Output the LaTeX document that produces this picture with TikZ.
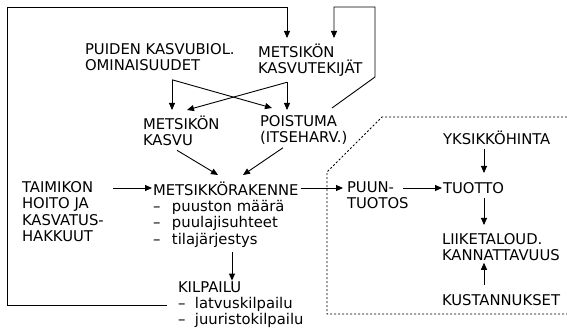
\documentclass[tikz,border=0pt]{standalone}
\usepackage{fontspec}
\setmainfont{DejaVu Sans}
\usetikzlibrary{arrows.meta}
\newcommand{\lbl}{\fontsize{14.8}{16.3}\selectfont}
\newcommand{\viiva}{\makebox[19pt][l]{–}}
\tikzset{
  txt/.style={inner sep=0pt, outer sep=0pt, align=left, anchor=north west, yshift=11.41pt,
    font=\lbl, execute at begin node=\strut, execute at end node=\strut},
  arr/.style={-{Triangle[length=7pt,width=6pt]}, line width=0.9pt},
  raja/.style={line width=0.9pt, dash pattern=on 2pt off 2pt}
}
\begin{document}
\begin{tikzpicture}[x=1pt,y=-1pt]
  \useasboundingbox (0,0) rectangle (567,332);
  \node[txt] (biol) at (85,55) {PUIDEN KASVUBIOL.\\OMINAISUUDET};
  \node[txt] (tekij) at (258,55) {METSIKÖN\\KASVUTEKIJÄT};
  \node[txt] (kasvu) at (143,127) {METSIKÖN\\KASVU};
  \node[txt] (poist) at (260,127) {POISTUMA\\(ITSEHARV.)};
  \node[txt] (taim) at (22,193) {TAIMIKON\\HOITO JA\\KASVATUS-\\HAKKUUT};
  \node[txt] (rak) at (153,193) {METSIKKÖRAKENNE\\\viiva puuston määrä\\\viiva puulajisuhteet\\\viiva tilajärjestys};
  \node[txt] (kilp) at (178,293) {KILPAILU\\\makebox[17pt][l]{–}latvuskilpailu\\\makebox[17pt][l]{–}juuristokilpailu};
  \node[txt] (puun) at (347,193) {PUUN-\\TUOTOS};
  \node[txt] (yks) at (443,142) {YKSIKKÖHINTA};
  \node[txt] (tuot) at (443,193) {TUOTTO};
  \node[txt] (liik) at (442,245) {LIIKETALOUD.\\KANNATTAVUUS};
  \node[txt] (kust) at (442,305) {KUSTANNUKSET};
  % takaisinkytkennät
  \draw[arr] ([xshift=-11pt]kilp.west) -| (7,7) -| ([xshift=29pt,yshift=5.6pt]tekij.north west);
  \draw[arr] ([xshift=72pt,yshift=7.6pt]poist.north west) -- (375,77) -- (375,7)
    -| ([xshift=76pt,yshift=5.6pt]tekij.north west);
  % kasvu ja poistuma
  \draw[arr] ([xshift=87pt,yshift=-4pt]biol.south west) -- ([xshift=29pt,yshift=5.6pt]kasvu.north west);
  \draw[arr] ([xshift=87pt,yshift=-4pt]biol.south west) -- ([xshift=12pt,yshift=7.6pt]poist.north west);
  \draw[arr] ([xshift=29pt,yshift=-4pt]tekij.south west) -- ([xshift=27pt,yshift=5.6pt]poist.north west);
  \draw[arr] ([xshift=29pt,yshift=-4pt]tekij.south west) -- ([xshift=44pt,yshift=5.6pt]kasvu.north west);
  \draw[arr] ([xshift=34pt]kasvu.south west) -- ([xshift=65pt,yshift=6.6pt]rak.north west);
  \draw[arr] ([xshift=23pt]poist.south west) -- ([xshift=90pt,yshift=6.6pt]rak.north west);
  % rakenne
  \draw[arr] ([xshift=91pt,yshift=-6.4pt]taim.north west) -- ([xshift=-1pt,yshift=-6.4pt]rak.north west);
  \draw[arr] ([xshift=79pt,yshift=-3pt]rak.south west) -- ([xshift=54pt,yshift=1pt]kilp.north west);
  \draw[arr] ([xshift=2pt,yshift=-6.4pt]rak.north east) -- ([xshift=-4pt,yshift=-6.4pt]puun.north west);
  \draw[arr] ([xshift=56pt,yshift=-6.4pt]puun.north west) -- ([xshift=-1pt,yshift=-6.4pt]tuot.north west);
  % kannattavuus
  \draw[arr] ([xshift=41pt]yks.south west) -- ([xshift=41pt,yshift=8.6pt]tuot.north west);
  \draw[arr] ([xshift=41pt]tuot.south west) -- ([xshift=42pt,yshift=8.6pt]liik.north west);
  \draw[arr] ([xshift=42pt,yshift=8.6pt]kust.north west) -- ([xshift=42pt,yshift=3pt]liik.south west);
  \draw[raja] (567,117) -- (382,117) -- (327,172) -- (327,314) -- (567,314);
\end{tikzpicture}
\end{document}
